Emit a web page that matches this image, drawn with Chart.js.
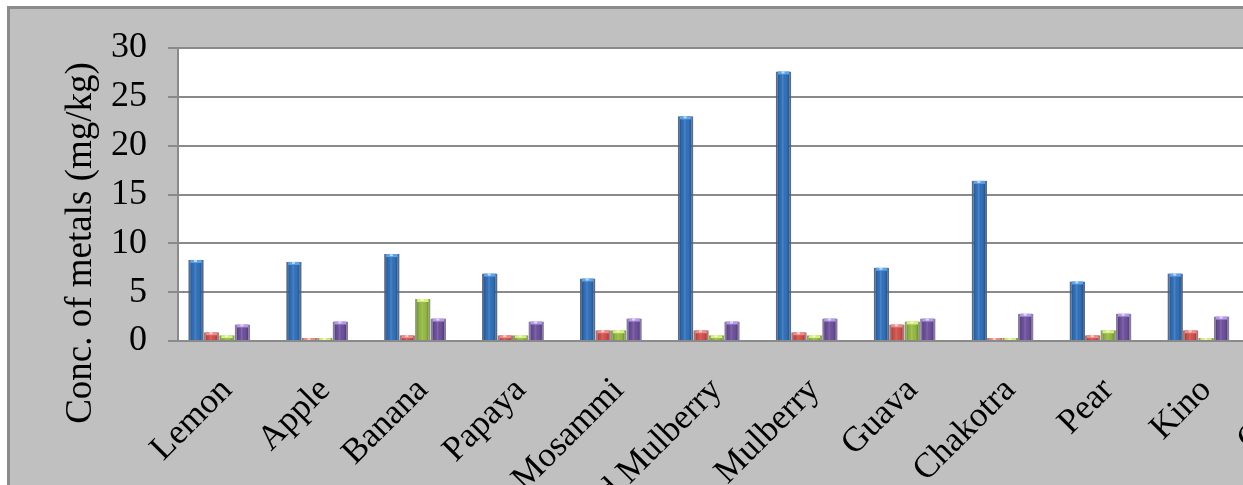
<!DOCTYPE html>
<html>
<head>
<meta charset="utf-8">
<script src="https://cdn.jsdelivr.net/npm/chart.js@4.4.1/dist/chart.umd.min.js"></script>
<style>
  html, body { margin: 0; padding: 0; width: 1243px; height: 485px; overflow: hidden; background: #ffffff; }
  #frame { position: absolute; left: 7px; top: 6px; width: 1400px; height: 600px;
           background: #c0c0c0; border-top: 3px solid #8b8b8b; border-left: 3px solid #8b8b8b; }
  #plot { position: absolute; left: 0; top: 0; }
</style>
</head>
<body>
<div id="frame"></div>
<canvas id="plot" width="1380" height="560" style="width:1380px;height:560px"></canvas>
<script>
// Fruit samples along the category axis
const categories = ['Lemon', 'Apple', 'Banana', 'Papaya', 'Mosammi', 'Wild Mulberry',
                    'Mulberry', 'Guava', 'Chakotra', 'Pear', 'Kino', 'Chiku'];

// Metal concentrations, mg/kg
const fe = [8.3, 8.1, 8.9, 6.9, 6.4, 23.0, 27.6, 7.5, 16.4, 6.1, 6.9, null];
const cu = [0.9, 0.3, 0.6, 0.6, 1.1, 1.1, 0.9, 1.7, 0.3, 0.6, 1.1, null];
const mn = [0.6, 0.3, 4.3, 0.6, 1.1, 0.6, 0.6, 2.0, 0.3, 1.1, 0.3, null];
const zn = [1.7, 2.0, 2.3, 2.0, 2.3, 2.0, 2.3, 2.3, 2.8, 2.8, 2.5, null];
// Fifth metal: nothing measurable, but it keeps its slot in every group
const ni = [null, null, null, null, null, null, null, null, null, null, null, null];

const yTicks = { min: 0, max: 30, step: 5 };
const axisTitle = 'Conc. of metals (mg/kg)';

const palettes = [
  { base: '#306fb8', cap: '#5da4ec', edge: 'rgba(78,100,134,0.95)' },
  { base: '#cf4f4b', cap: '#f08c88', edge: 'rgba(150,96,96,0.85)' },
  { base: '#94b844', cap: '#d6f07a', edge: 'rgba(118,140,84,0.85)' },
  { base: '#6c4f9a', cap: '#b699e8', edge: 'rgba(130,116,156,0.95)' },
  { base: '#4bacc6', cap: '#8fd3e6', edge: 'rgba(90,130,150,0.8)' }
];

function series(label, data, i) {
  return {
    label, data,
    backgroundColor: palettes[i].base,
    borderColor: palettes[i].edge,
    borderWidth: 2,
    barPercentage: 1.0,
    categoryPercentage: 0.79
  };
}

// White plot area behind the bars
const plotBackground = {
  id: 'plotBackground',
  beforeDraw(chart) {
    const { ctx, chartArea: a } = chart;
    ctx.save();
    ctx.fillStyle = '#ffffff';
    ctx.fillRect(a.left, a.top, a.right - a.left, a.bottom - a.top);
    ctx.restore();
  }
};

// Rounded-column shading: darker sides, soft highlight, light top cap
const barShading = {
  id: 'barShading',
  afterDatasetsDraw(chart) {
    const ctx = chart.ctx;
    chart.data.datasets.forEach((ds, i) => {
      const meta = chart.getDatasetMeta(i);
      meta.data.forEach((bar, j) => {
        if (ds.data[j] == null) return;
        const half = bar.width / 2;
        const left = bar.x - half + 2, w = bar.width - 4;
        const top = Math.min(bar.y, bar.base), h = Math.abs(bar.base - bar.y);
        if (h <= 0) return;
        ctx.save();
        const g = ctx.createLinearGradient(left, 0, left + w, 0);
        g.addColorStop(0, 'rgba(0,0,0,0.22)');
        g.addColorStop(0.22, 'rgba(0,0,0,0)');
        g.addColorStop(0.42, 'rgba(255,255,255,0.14)');
        g.addColorStop(0.6, 'rgba(255,255,255,0)');
        g.addColorStop(0.85, 'rgba(0,0,0,0.08)');
        g.addColorStop(1, 'rgba(0,0,0,0.25)');
        ctx.fillStyle = g;
        ctx.fillRect(left, top, w, h);
        const capH = Math.min(3, h);
        ctx.fillStyle = palettes[i].cap;
        ctx.fillRect(left, top, w, capH);
        ctx.globalAlpha = 0.6;
        ctx.fillStyle = '#ffffff';
        ctx.fillRect(bar.x - 2, top, 3, Math.min(2, capH));
        ctx.restore();
      });
    });
  }
};

// Vertical axis title
const yTitle = {
  id: 'yTitle',
  afterDraw(chart) {
    const ctx = chart.ctx;
    ctx.save();
    ctx.translate(91, 243);
    ctx.rotate(-Math.PI / 2);
    ctx.font = '37px "Liberation Serif", "Times New Roman", serif';
    ctx.fillStyle = '#000000';
    ctx.textAlign = 'center';
    ctx.textBaseline = 'alphabetic';
    ctx.fillText(axisTitle, 0, 0);
    ctx.restore();
  }
};

new Chart(document.getElementById('plot'), {
  type: 'bar',
  data: {
    labels: categories,
    datasets: [
      series('Fe', fe, 0),
      series('Cu', cu, 1),
      series('Mn', mn, 2),
      series('Zn', zn, 3),
      series('Ni', ni, 4)
    ]
  },
  options: {
    responsive: false,
    animation: false,
    devicePixelRatio: 1,
    layout: { padding: { top: 48, right: 27, left: 0, bottom: 0 } },
    plugins: { legend: { display: false }, tooltip: { enabled: false } },
    scales: {
      x: {
        grid: { display: false, drawTicks: false },
        border: { display: true, color: '#8a8a8a', width: 2 },
        ticks: {
          autoSkip: false, minRotation: 45, maxRotation: 45, padding: 29,
          color: '#000000',
          font: { family: '"Liberation Serif", "Times New Roman", serif', size: 35 }
        },
        afterFit(s) { s.height = 219; }
      },
      y: {
        min: yTicks.min, max: yTicks.max,
        ticks: {
          stepSize: yTicks.step, padding: 21, color: '#000000',
          font: { family: '"Liberation Serif", "Times New Roman", serif', size: 36 }
        },
        grid: { color: '#8a8a8a', lineWidth: 2, tickLength: 10 },
        border: { color: '#8a8a8a', width: 2 },
        afterFit(s) { s.width = 178; }
      }
    }
  },
  plugins: [plotBackground, barShading, yTitle]
});
</script>
</body>
</html>
